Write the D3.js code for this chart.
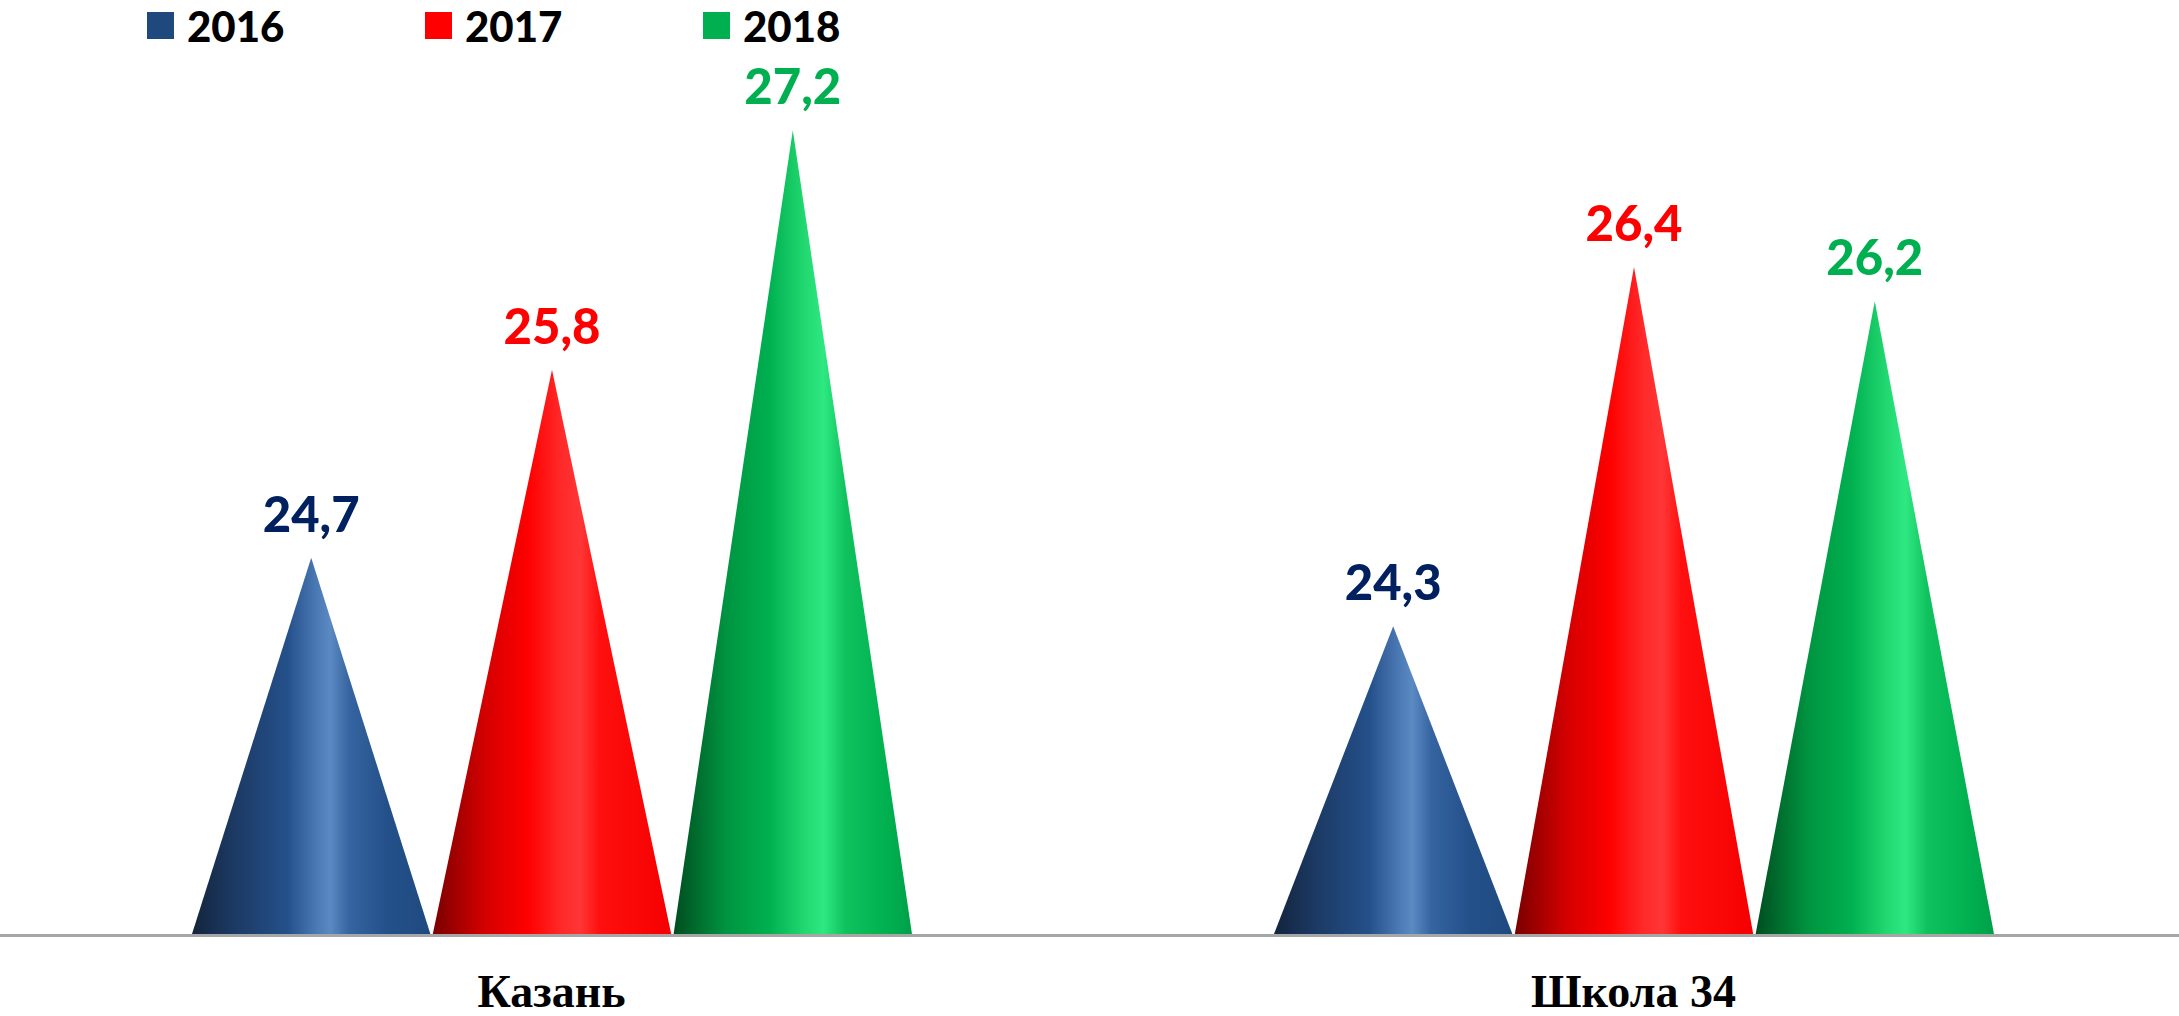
<!DOCTYPE html>
<html><head><meta charset="utf-8">
<script src="https://cdn.jsdelivr.net/npm/d3@7"></script>
<style>html,body{margin:0;padding:0;background:#fff;}svg{display:block;}</style>
</head><body>
<svg id="chart" width="2179" height="1016"></svg>
<script>
const categories = ["Казань", "Школа 34"];
const seriesNames = ["2016", "2017", "2018"];
const values2016 = [24.7, 24.3];
const values2017 = [25.8, 26.4];
const values2018 = [27.2, 26.2];
const valueLabels2016 = ["24,7", "24,3"];
const valueLabels2017 = ["25,8", "26,4"];
const valueLabels2018 = ["27,2", "26,2"];

const seriesValues = [values2016, values2017, values2018];
const seriesLabels = [valueLabels2016, valueLabels2017, valueLabels2018];
const legendColors = ["#1f497d", "#ff0000", "#00b050"];
const labelColors = ["#002060", "#ff0000", "#00b050"];
const gradStops = [
  [["0%","#13243d"],["18%","#1c3a64"],["40%","#24508a"],["52%","#4a78b3"],["58%","#5b89c2"],["66%","#3564a0"],["82%","#24508a"],["100%","#1f4a80"]],
  [["0%","#7a0000"],["22%","#d40000"],["40%","#ff0000"],["54%","#ff2a2a"],["62%","#ff3535"],["70%","#ff0f0f"],["100%","#f50000"]],
  [["0%","#004d1f"],["22%","#009440"],["40%","#00b050"],["55%","#22d870"],["63%","#2ee882"],["72%","#10c25e"],["90%","#00b050"],["100%","#00a048"]]
];

const W = 2179, H = 1016;
const svg = d3.select("#chart");
const defs = svg.append("defs");
gradStops.forEach((stops, i) => {
  const g = defs.append("linearGradient").attr("id", "cg" + i)
    .attr("x1", "0%").attr("x2", "100%").attr("y1", "0%").attr("y2", "0%");
  stops.forEach(s => g.append("stop").attr("offset", s[0]).attr("stop-color", s[1]));
});

const baseY = 934;
const x0 = d3.scaleBand().domain(categories).range([11, 2175]).padding(0);
const x1 = d3.scaleBand().domain(seriesNames).range([181, 901]).paddingInner(0.01);
const y = d3.scaleLinear().domain([22.5, 28]).range([baseY, baseY - 5.5 * 171]);

const data = [];
categories.forEach((c, ci) => {
  seriesNames.forEach((s, si) => {
    data.push({cat: c, ser: s, si, v: seriesValues[si][ci], lab: seriesLabels[si][ci]});
  });
});

const g = svg.append("g");
g.selectAll("path.cone").data(data).enter().append("path")
  .attr("class", "cone")
  .attr("d", d => {
    const left = x0(d.cat) + x1(d.ser);
    const right = left + x1.bandwidth();
    const cx = (left + right) / 2;
    return `M${left},${y(22.5)}L${cx},${y(d.v)}L${right},${y(22.5)}Z`;
  })
  .attr("fill", d => `url(#cg${d.si})`);

// baseline axis
svg.append("line").attr("x1", 0).attr("x2", W).attr("y1", baseY + 1.5).attr("y2", baseY + 1.5)
  .attr("stroke", "#a6a6a6").attr("stroke-width", 3);

// value labels
g.selectAll("text.val").data(data).enter().append("text")
  .attr("class", "val")
  .attr("x", d => x0(d.cat) + x1(d.ser) + x1.bandwidth() / 2)
  .attr("y", d => y(d.v) - 26)
  .attr("text-anchor", "middle")
  .attr("font-family", "Lato, 'Open Sans', sans-serif")
  .attr("font-weight", 900)
  .attr("font-size", 49)
  .attr("fill", d => labelColors[d.si])
  .text(d => d.lab);

// category labels
svg.selectAll("text.cat").data(categories).enter().append("text")
  .attr("class", "cat")
  .attr("x", d => x0(d) + x0.bandwidth() / 2 - 0.5)
  .attr("y", 1007)
  .attr("text-anchor", "middle")
  .attr("font-family", "'Liberation Serif', 'Times New Roman', serif")
  .attr("font-weight", "bold")
  .attr("font-size", 46)
  .attr("fill", "#000")
  .text(d => d);

// legend
const legX = d3.scalePoint().domain(seriesNames).range([147, 703]);
const leg = svg.selectAll("g.leg").data(seriesNames).enter().append("g")
  .attr("class", "leg")
  .attr("transform", d => `translate(${legX(d)},0)`);
leg.append("rect").attr("x", 0).attr("y", 12).attr("width", 27).attr("height", 27)
  .attr("fill", (d, i) => legendColors[i]);
leg.append("text").attr("x", 40).attr("y", 42)
  .attr("font-family", "Lato, 'Open Sans', sans-serif")
  .attr("font-weight", 900)
  .attr("font-size", 42)
  .attr("fill", "#000")
  .text(d => d);
</script>
</body></html>
